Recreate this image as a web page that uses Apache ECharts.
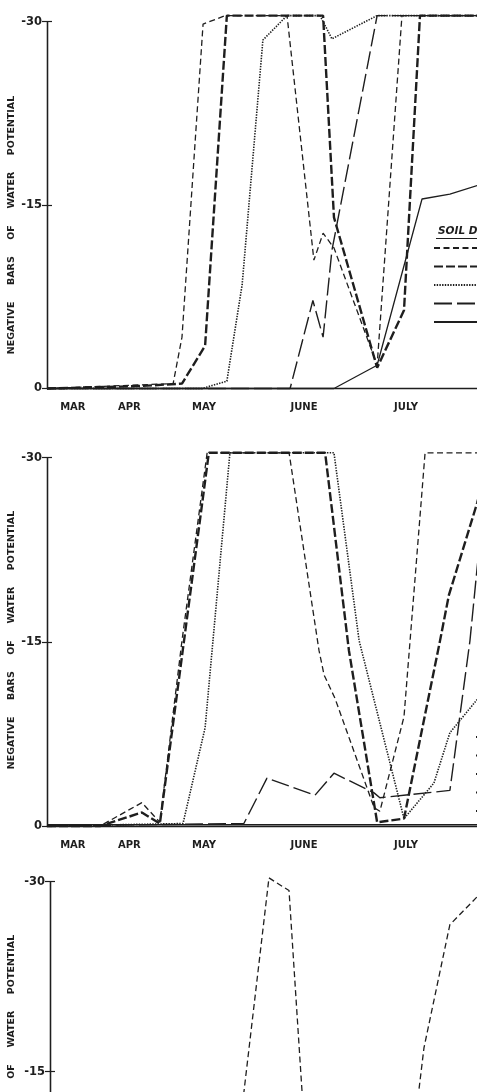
<!DOCTYPE html>
<html><head><meta charset="utf-8">
<script src="https://cdn.jsdelivr.net/npm/echarts@6/dist/echarts.min.js"></script>
<style>html,body{margin:0;padding:0;background:#fff}#c{width:477px;height:1092px}</style>
</head><body><div id="c"></div>
<script>
// x values: position along the season axis (approx. days from start of axis)
const monthLabels = ['MAR', 'APR', 'MAY', 'JUNE', 'JULY', 'AUG'];
const monthPos = [7.6, 24.2, 46.2, 75.6, 105.6, 135.5];
const yTicks = [-30, -15, 0];
const depthNames = ['5 cm', '15 cm', '30 cm', '60 cm', '90 cm'];
const yTitle = 'NEGATIVE     BARS     OF     WATER     POTENTIAL';
const legendTitle = 'SOIL DEPTH';

// Panel 1
const p1Thin = [[0,0],[18.5,-0.2],[37.1,-0.4],[39.7,-4.2],[45.9,-29.8],[52.4,-30.5],[70.6,-30.5],[78.5,-10.5],[81.2,-12.7],[84.4,-11.5],[97.1,-1.9],[104.4,-30.5],[140,-30.5]];
const p1Heavy = [[0,0],[27.4,-0.2],[39.7,-0.4],[46.5,-3.5],[52.9,-30.5],[81.2,-30.5],[84.4,-14.0],[97.1,-1.7],[105.0,-6.4],[109.7,-30.5],[140,-30.5]];
const p1Dotted = [[0,0],[45.6,0],[52.9,-0.6],[57.4,-8.5],[63.5,-28.5],[70.6,-30.5],[80.3,-30.5],[83.8,-28.6],[97.1,-30.5],[140,-30.5]];
const p1Long = [[0,0],[71.5,0],[78.2,-7.2],[81.2,-4.2],[83.8,-11.3],[97.1,-30.5],[140,-30.5]];
const p1Solid = [[0,0],[84.4,0],[97.1,-1.9],[110.3,-15.5],[118.5,-15.9],[126.5,-16.6],[140,-17.5]];

// Panel 2
const p2Thin = [[0,0],[15.6,0],[27.9,-1.9],[33.2,-0.3],[39.7,-15.1],[47.1,-30.4],[71.2,-30.4],[80.0,-14.3],[81.5,-12.3],[84.7,-10.4],[96.2,-1.5],[97.9,-1.2],[105.0,-8.9],[111.2,-30.4],[140,-30.4]];
const p2Heavy = [[0,0],[15.6,0],[27.9,-1.1],[33.2,-0.2],[47.6,-30.4],[81.8,-30.4],[88.8,-14.3],[97.1,-0.3],[105.0,-0.6],[115.6,-15.1],[118.2,-18.8],[126.5,-26.3],[130.3,-30.4],[140,-30.4]];
const p2Dotted = [[0,0],[40.0,-0.2],[46.5,-8.0],[53.8,-30.4],[84.4,-30.4],[91.8,-15.1],[105.0,-0.6],[113.8,-3.5],[118.5,-7.6],[126.5,-10.3],[133,-13]];
const p2Long = [[0,0],[57.9,-0.2],[64.7,-3.9],[78.8,-2.5],[84.4,-4.3],[96.2,-2.7],[97.9,-2.3],[118.5,-2.9],[124.4,-15.1],[126.5,-21.0],[130,-30.4],[140,-30.4]];
const p2Solid = [[0,-0.1],[140,-0.1]];

// Panel 3 (only the upper part is visible)
const p3Thin = [[0,0],[51.2,0],[57.1,-13.55],[64.4,-30.3],[70.3,-29.3],[74.1,-13.55],[77.4,0],[102.6,0],[108.5,-13.55],[110.0,-16.9],[117.6,-26.6],[125.6,-28.8],[132.4,-30.3]];

const INK = '#1e1e1e';
const FONT = 'DejaVu Sans';
const styles = [
  {width: 1.3, type: [6, 3.5]},
  {width: 2.4, type: [9, 3]},
  {width: 1.6, type: [1.4, 1.3]},
  {width: 1.4, type: [18, 5]},
  {width: 1.3, type: 'solid'}
];
const panels = [
  {grid: {left: 47, top: 21.7, width: 476, height: 366.8}, data: [p1Thin, p1Heavy, p1Dotted, p1Long, p1Solid], titleY: 225},
  {grid: {left: 47, top: 457.7, width: 476, height: 368.3}, data: [p2Thin, p2Heavy, p2Dotted, p2Long, p2Solid], titleY: 640},
  {grid: {left: 50, top: 881.7, width: 476, height: 380}, data: [p3Thin], titleY: 1064}
];

const grids = [], xAxes = [], yAxes = [], series = [], graphics = [];
panels.forEach((p, i) => {
  grids.push(Object.assign({outerBoundsMode: 'none', containLabel: false}, p.grid));
  xAxes.push({
    type: 'value', gridIndex: i, min: 0, max: 140,
    axisLine: {show: true, onZero: false, lineStyle: {color: INK, width: 1.3}},
    axisTick: {show: false}, splitLine: {show: false},
    axisLabel: {
      show: true, margin: 14, color: INK, fontSize: 10, fontWeight: 'bold', fontFamily: FONT,
      customValues: monthPos,
      formatter: v => { const k = monthPos.indexOf(v); return k >= 0 ? monthLabels[k] : ''; }
    }
  });
  const yBase = {
    type: 'value', gridIndex: i, inverse: true, min: yTicks[0], max: yTicks[2], interval: 15,
    position: 'left',
    axisLine: {show: true, lineStyle: {color: INK, width: 1.3}},
    splitLine: {show: false}
  };
  yAxes.push(Object.assign({}, yBase, {
    axisTick: {show: true, length: 5, lineStyle: {color: INK, width: 1.2}},
    axisLabel: {show: true, margin: 5, color: INK, fontSize: 11.5, fontWeight: 'bold', fontFamily: FONT}
  }));
  yAxes.push(Object.assign({}, yBase, {
    axisTick: {show: true, inside: true, length: 5, lineStyle: {color: INK, width: 1.2}},
    axisLabel: {show: false}
  }));
  p.data.forEach((d, k) => {
    series.push({
      name: depthNames[k], type: 'line', xAxisIndex: i, yAxisIndex: i * 2,
      data: d, symbol: 'none', clip: false, silent: true,
      itemStyle: {color: INK},
      lineStyle: {color: INK, width: styles[k].width, type: styles[k].type}
    });
  });
  graphics.push({
    type: 'text', x: 12, y: p.titleY, rotation: Math.PI / 2,
    style: {text: yTitle, fill: INK, font: 'bold 9.5px "DejaVu Sans"', align: 'center', verticalAlign: 'middle', textAlign: 'center', textVerticalAlign: 'middle'}
  });
});
graphics.push({
  type: 'text', x: 438, y: 226,
  style: {text: legendTitle, fill: INK, font: 'italic bold 10.5px "DejaVu Sans"'}
});
graphics.push({
  type: 'line', shape: {x1: 436, y1: 238.5, x2: 520, y2: 238.5},
  style: {stroke: INK, lineWidth: 1.2}
});

const legendBase = {
  data: depthNames, orient: 'vertical', itemWidth: 60, itemHeight: 10, itemGap: 8.5, padding: 0,
  selectedMode: false, itemStyle: {opacity: 0},
  textStyle: {color: INK, fontSize: 10, fontFamily: FONT}
};
const option = {
  animation: false,
  backgroundColor: '#fff',
  textStyle: {fontFamily: FONT},
  grid: grids, xAxis: xAxes, yAxis: yAxes, series: series,
  legend: [
    Object.assign({}, legendBase, {left: 433, top: 243}),
    Object.assign({}, legendBase, {left: 475, top: 732})
  ],
  graphic: graphics
};
const chart = echarts.init(document.getElementById('c'), null, {renderer: 'canvas'});
chart.setOption(option);
</script></body></html>
